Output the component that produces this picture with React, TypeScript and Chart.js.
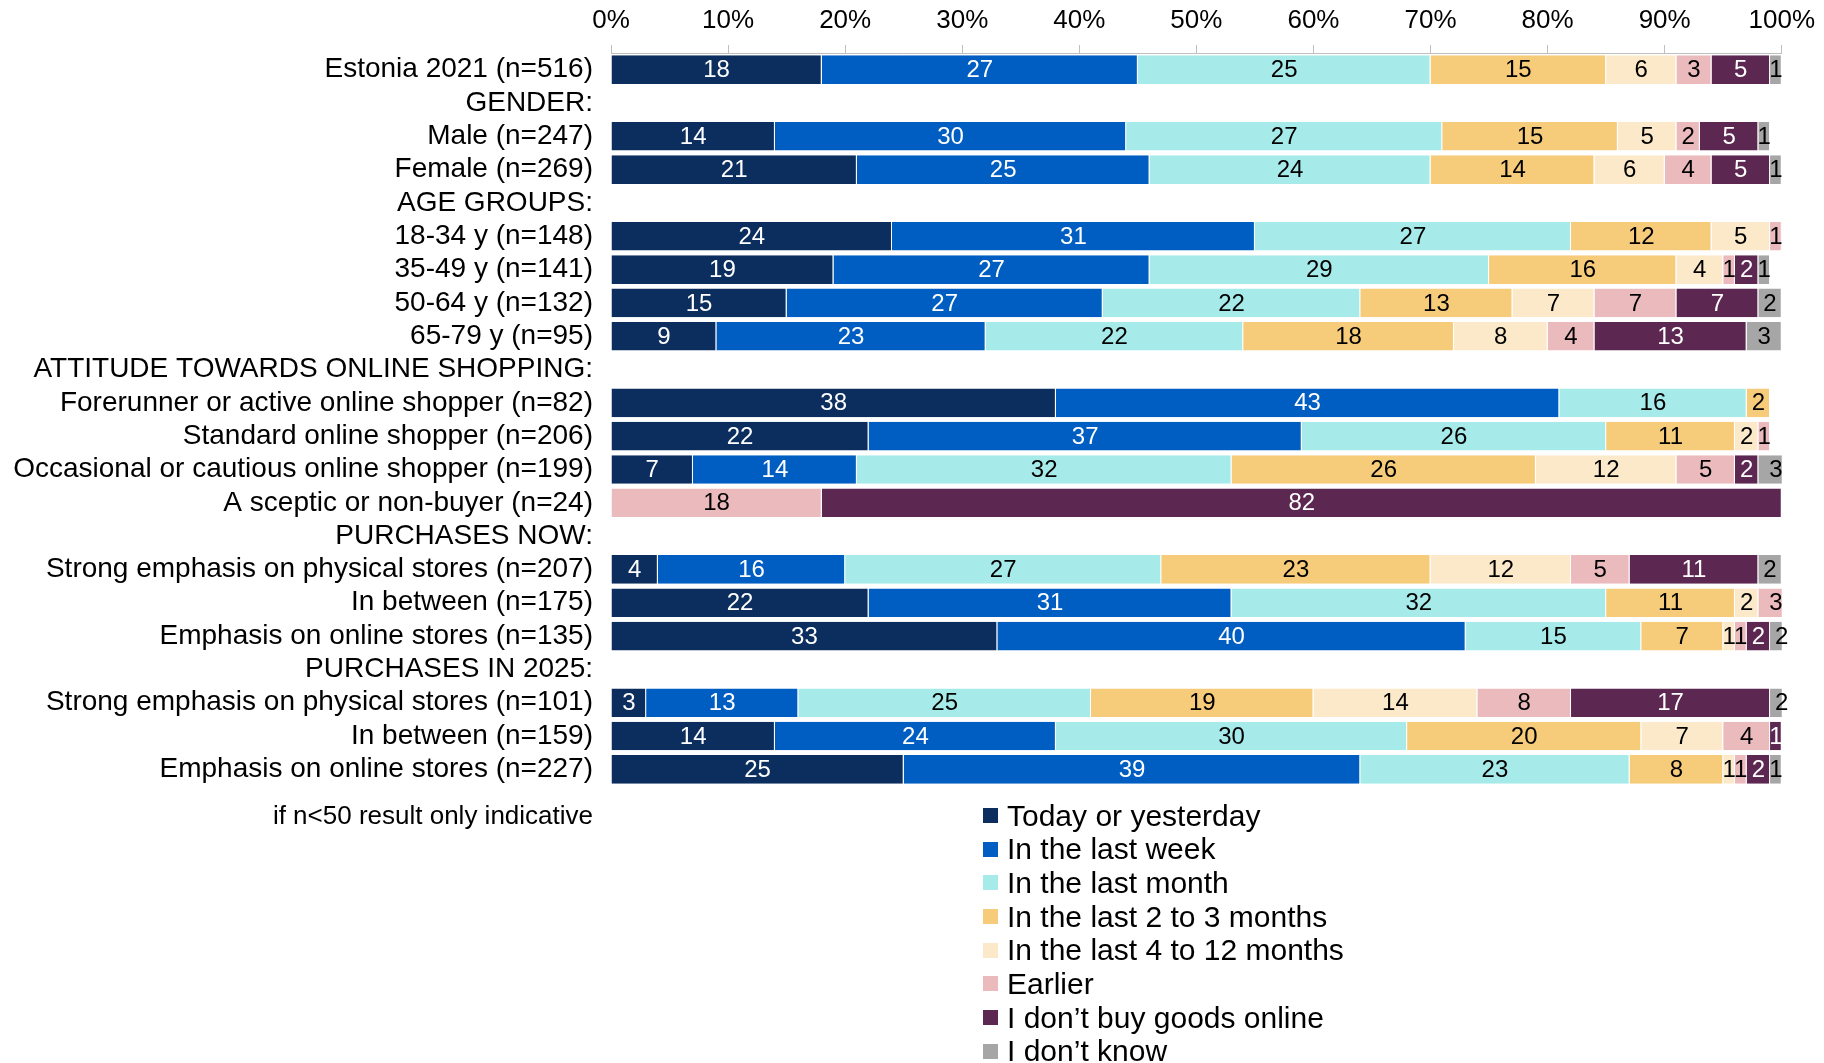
import React, { useEffect, useRef } from "react";
import { Chart, registerables } from "chart.js";

Chart.register(...registerables);

const W = 1824;
const H = 1063;
const FONT = "'Liberation Sans', Arial, sans-serif";

// Row labels (section headers have no bar)
const categories = [
  "Estonia 2021 (n=516)",
  "GENDER:",
  "Male (n=247)",
  "Female (n=269)",
  "AGE GROUPS:",
  "18-34 y (n=148)",
  "35-49 y (n=141)",
  "50-64 y (n=132)",
  "65-79 y (n=95)",
  "ATTITUDE TOWARDS ONLINE SHOPPING:",
  "Forerunner or active online shopper (n=82)",
  "Standard online shopper (n=206)",
  "Occasional or cautious online shopper (n=199)",
  "A sceptic or non-buyer (n=24)",
  "PURCHASES NOW:",
  "Strong emphasis on physical stores (n=207)",
  "In between (n=175)",
  "Emphasis on online stores (n=135)",
  "PURCHASES IN 2025:",
  "Strong emphasis on physical stores (n=101)",
  "In between (n=159)",
  "Emphasis on online stores (n=227)",
];

// Share of respondents, %
const todayOrYesterday = [18, 0, 14, 21, 0, 24, 19, 15, 9, 0, 38, 22, 7, 0, 0, 4, 22, 33, 0, 3, 14, 25];
const inLastWeek = [27, 0, 30, 25, 0, 31, 27, 27, 23, 0, 43, 37, 14, 0, 0, 16, 31, 40, 0, 13, 24, 39];
const inLastMonth = [25, 0, 27, 24, 0, 27, 29, 22, 22, 0, 16, 26, 32, 0, 0, 27, 32, 15, 0, 25, 30, 23];
const inLast2to3Months = [15, 0, 15, 14, 0, 12, 16, 13, 18, 0, 2, 11, 26, 0, 0, 23, 11, 7, 0, 19, 20, 8];
const inLast4to12Months = [6, 0, 5, 6, 0, 5, 4, 7, 8, 0, 0, 2, 12, 0, 0, 12, 2, 1, 0, 14, 7, 1];
const earlier = [3, 0, 2, 4, 0, 1, 1, 7, 4, 0, 0, 1, 5, 18, 0, 5, 3, 1, 0, 8, 4, 1];
const dontBuyOnline = [5, 0, 5, 5, 0, 1, 2, 7, 13, 0, 0, 0, 2, 82, 0, 11, 0, 2, 0, 17, 1, 2];
const dontKnow = [1, 0, 1, 1, 0, 0, 1, 2, 3, 0, 0, 0, 3, 0, 0, 2, 0, 2, 0, 2, 0, 1];

const seriesNames = [
  "Today or yesterday",
  "In the last week",
  "In the last month",
  "In the last 2 to 3 months",
  "In the last 4 to 12 months",
  "Earlier",
  "I don\u2019t buy goods online",
  "I don\u2019t know",
];
const seriesValues = [
  todayOrYesterday,
  inLastWeek,
  inLastMonth,
  inLast2to3Months,
  inLast4to12Months,
  earlier,
  dontBuyOnline,
  dontKnow,
];
const seriesColors = ["#0b2e5e", "#005ec2", "#a6eaea", "#f6cb7a", "#fbe9c9", "#ebbabd", "#5c2751", "#a6a6a6"];
const valueTextColors = ["#ffffff", "#ffffff", "#000000", "#000000", "#000000", "#000000", "#ffffff", "#000000"];

const footnote = "if n<50 result only indicative";

// Writes each segment's value in its middle
const valueLabels = {
  id: "valueLabels",
  afterDatasetsDraw(chart: any) {
    const ctx = chart.ctx;
    ctx.save();
    ctx.font = `24px ${FONT}`;
    ctx.textAlign = "center";
    ctx.textBaseline = "middle";
    chart.data.datasets.forEach((ds: any, i: number) => {
      const meta = chart.getDatasetMeta(i);
      meta.data.forEach((el: any, j: number) => {
        const v = ds.data[j];
        if (!v) return;
        const p = el.getProps(["x", "base", "y"], true);
        ctx.fillStyle = valueTextColors[i];
        ctx.fillText(String(v), (p.x + p.base) / 2, p.y + 1);
      });
    });
    ctx.restore();
  },
};

export default function App() {
  const canvasRef = useRef<HTMLCanvasElement | null>(null);

  useEffect(() => {
    if (!canvasRef.current) return;
    const chart = new Chart(canvasRef.current, {
      type: "bar",
      data: {
        labels: categories,
        datasets: seriesValues.map((vals, i) => ({
          label: seriesNames[i],
          data: vals.map((v) => (v ? v : null)),
          backgroundColor: seriesColors[i],
          borderColor: "#ffffff",
          borderWidth: { top: 0, bottom: 0, left: 0, right: 1 },
          borderSkipped: false,
          barPercentage: 0.86,
          categoryPercentage: 1,
        })),
      },
      options: {
        indexAxis: "y",
        responsive: false,
        animation: false,
        events: [],
        layout: { padding: { left: 0, top: 0, right: 40, bottom: 277 } },
        plugins: {
          legend: { display: false },
          tooltip: { enabled: false },
        },
        scales: {
          x: {
            type: "linear",
            position: "top",
            stacked: true,
            min: 0,
            max: 100,
            ticks: {
              stepSize: 10,
              callback: (v: any) => `${v}%`,
              font: { size: 26, family: FONT },
              color: "#000000",
              padding: 9,
              maxRotation: 0,
            },
            grid: { drawOnChartArea: false, drawTicks: true, tickLength: 8, color: "#bfbfbf" },
            border: { display: true, color: "#bfbfbf", width: 1 },
            afterFit: (s: any) => {
              s.height = 53;
            },
          },
          y: {
            type: "category",
            stacked: true,
            ticks: {
              autoSkip: false,
              font: { size: 28, family: FONT },
              color: "#000000",
              padding: 18,
            },
            grid: { display: false, drawTicks: false },
            border: { display: false },
            afterFit: (s: any) => {
              s.width = 611;
            },
          },
        },
      },
      plugins: [valueLabels],
    } as any);
    return () => chart.destroy();
  }, []);

  return (
    <div
      style={{
        position: "absolute",
        left: 0,
        top: 0,
        width: W,
        height: H,
        background: "#ffffff",
        overflow: "hidden",
        fontFamily: FONT,
      }}
    >
      <canvas ref={canvasRef} width={W} height={H} style={{ width: W, height: H, display: "block" }} />
      <div
        style={{
          position: "absolute",
          left: 0,
          top: 800,
          width: 593,
          textAlign: "right",
          fontSize: 26,
          lineHeight: "30px",
          color: "#000",
          whiteSpace: "nowrap",
        }}
      >
        {footnote}
      </div>
      <div style={{ position: "absolute", left: 983, top: 798.5 }}>
        {seriesNames.map((name, i) => (
          <div
            key={name}
            style={{ display: "flex", alignItems: "center", height: 33.7, whiteSpace: "nowrap" }}
          >
            <span
              style={{
                display: "inline-block",
                width: 15,
                height: 15,
                background: seriesColors[i],
                marginRight: 9,
                flex: "none",
              }}
            />
            <span style={{ fontSize: 30, lineHeight: "33.7px", color: "#000" }}>{name}</span>
          </div>
        ))}
      </div>
    </div>
  );
}
